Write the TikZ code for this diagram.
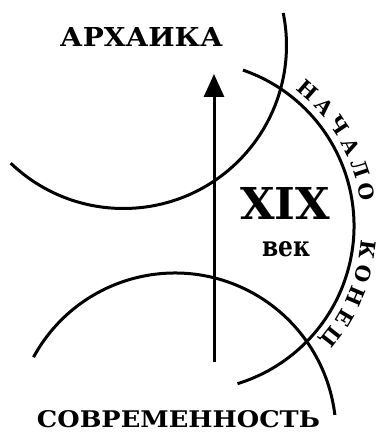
\documentclass[tikz,border=0pt]{standalone}
\usepackage{fontspec}
\setmainfont{DejaVu Serif}
\usetikzlibrary{arrows.meta}
\begin{document}
\begin{tikzpicture}[x=1pt,y=1pt,
  arcline/.style={line width=3pt},
  label/.style={anchor=base, inner sep=0pt},
  letter/.style={inner sep=0pt, anchor=base}]
\useasboundingbox (0,0) rectangle (380,432);
\coordinate (cu) at (123.5,386.5);
\coordinate (cb) at (189,206);
\coordinate (cl) at (175,-2);
% arcs
\draw[arcline] ([shift={(226.2:163)}]cu) arc[start angle=226.2, end angle=371.5, radius=163];
\draw[arcline] ([shift={(70.9:165)}]cb) arc[start angle=70.9, end angle=-72.9, radius=165];
\draw[arcline] ([shift={(151.5:161)}]cl) arc[start angle=151.5, end angle=6.8, radius=161];
% arrow
\coordinate (abot) at (214,70);
\coordinate (atop) at (214,358);
\draw[line width=3pt, -{Triangle[length=23pt,width=20pt]}] (abot) -- (atop);
% labels
\node[label] (arch) at (141.5,385) {\resizebox{163pt}{19pt}{\bfseries АРХАИКА}};
\node[label] (xix) at (285,212) {\resizebox{90pt}{32pt}{\bfseries XIX}};
\node[label] (vek) at (286,175) {\resizebox{48pt}{15pt}{\bfseries век}};
\node[label] (sovr) at (178.5,4.5) {\resizebox{283pt}{17pt}{\bfseries СОВРЕМЕННОСТЬ}};
% curved words
\foreach \ch/\a [count=\i] in {Н/49,А/41.4,Ч/33.8,А/26.2,Л/18.6,О/11}
  \node[letter, rotate=\a-90] (n\i) at ([shift={(\a:173)}]cb) {\resizebox{!}{15pt}{\bfseries\ch}};
\foreach \ch/\a [count=\i] in {К/-7.7,О/-15.3,Н/-22.9,Е/-30.5}
  \node[letter, rotate=\a-90] (k\i) at ([shift={(\a:173)}]cb) {\resizebox{!}{15pt}{\bfseries\ch}};
\node[letter, rotate=-38.1-90] (k5) at ([shift={(-38.1:173)}]cb) {\resizebox{!}{15pt}{\bfseries\vphantom{Н}Ц}};
\end{tikzpicture}
\end{document}
